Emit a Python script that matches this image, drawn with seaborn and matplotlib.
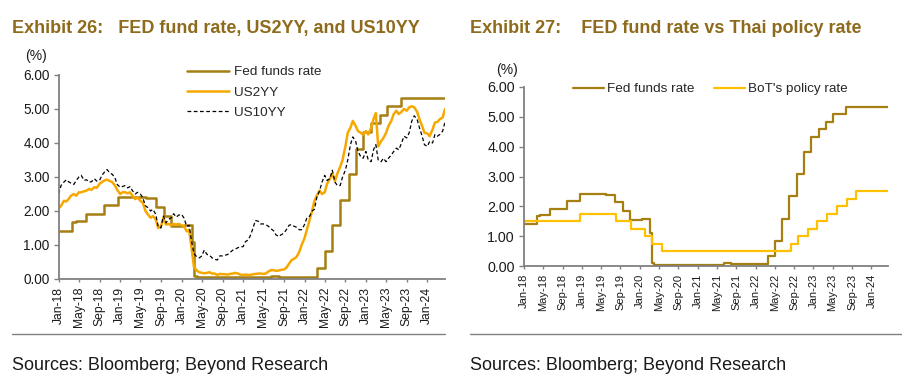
import matplotlib
matplotlib.use('Agg')
import matplotlib.pyplot as plt
import matplotlib.dates as mdates
from matplotlib.lines import Line2D
from matplotlib.ticker import FormatStrFormatter
import numpy as np
import pandas as pd
import seaborn as sns

# ---- data ----
# Fed funds (effective) rate, value from each date until the next one
fed_dates = ['2018-01-01', '2018-03-22', '2018-04-15', '2018-06-14', '2018-09-27',
             '2018-12-20', '2019-06-01', '2019-08-01', '2019-09-19', '2019-10-31',
             '2020-01-15', '2020-03-04', '2020-03-16', '2020-04-01', '2021-06-17',
             '2021-08-01', '2022-03-17', '2022-05-05', '2022-06-16', '2022-07-28',
             '2022-09-22', '2022-11-03', '2022-12-15', '2023-02-02', '2023-03-23',
             '2023-05-04', '2023-07-27', '2024-04-15']
fed_rate = [1.42, 1.67, 1.70, 1.91, 2.18,
            2.40, 2.38, 2.13, 1.85, 1.55,
            1.58, 1.10, 0.10, 0.05, 0.10,
            0.07, 0.33, 0.83, 1.58, 2.33,
            3.08, 3.83, 4.33, 4.58, 4.83,
            5.08, 5.33, 5.33]

# BoT policy rate
bot_dates = ['2018-01-01', '2018-12-19', '2019-08-07', '2019-11-06', '2020-02-05',
             '2020-03-20', '2020-05-20', '2022-08-10', '2022-09-28', '2022-11-30',
             '2023-01-25', '2023-03-29', '2023-05-31', '2023-08-02', '2023-09-27',
             '2024-04-15']
bot_rate = [1.50, 1.75, 1.50, 1.25, 1.00,
            0.75, 0.50, 0.75, 1.00, 1.25,
            1.50, 1.75, 2.00, 2.25, 2.50,
            2.50]

# yields, 1st and 15th of each month, Jan-2018 .. 15-Apr-2024
yield_dates = pd.date_range('2018-01-01', '2024-04-15', freq='SMS')
us2yy = [
    # 2018
    2.08, 2.15, 2.30, 2.28, 2.35, 2.45, 2.50, 2.45, 2.55, 2.55, 2.58, 2.60,
    2.65, 2.62, 2.70, 2.68, 2.80, 2.85, 2.90, 2.92, 2.88, 2.85, 2.75, 2.62,
    # 2019
    2.50, 2.55, 2.55, 2.52, 2.55, 2.45, 2.35, 2.40, 2.30, 2.25, 2.00, 1.90,
    1.80, 1.85, 1.75, 1.50, 1.55, 1.80, 1.60, 1.62, 1.58, 1.62, 1.60, 1.62,
    # 2020
    1.58, 1.56, 1.40, 1.45, 0.90, 0.35, 0.25, 0.20, 0.18, 0.17, 0.18, 0.20,
    0.16, 0.16, 0.12, 0.15, 0.14, 0.14, 0.13, 0.15, 0.16, 0.18, 0.16, 0.13,
    # 2021
    0.12, 0.13, 0.12, 0.12, 0.14, 0.15, 0.16, 0.16, 0.15, 0.16, 0.22, 0.26,
    0.26, 0.24, 0.25, 0.27, 0.28, 0.33, 0.45, 0.55, 0.60, 0.65, 0.80, 1.00,
    # 2022
    1.20, 1.45, 1.75, 2.00, 2.30, 2.45, 2.60, 2.50, 2.55, 2.80, 2.95, 3.10,
    2.88, 3.10, 3.30, 3.50, 3.90, 4.30, 4.45, 4.65, 4.50, 4.35, 4.30, 4.25,
    # 2023
    4.35, 4.25, 4.45, 4.70, 4.88, 3.90, 4.05, 4.15, 4.30, 4.50, 4.65, 4.85,
    4.95, 4.85, 4.92, 5.00, 4.95, 5.05, 5.08, 5.05, 4.92, 4.70, 4.50, 4.30,
    # 2024
    4.28, 4.20, 4.40, 4.60, 4.62, 4.70, 4.75, 5.00]
us10yy = [
    # 2018
    2.50, 2.75, 2.85, 2.92, 2.86, 2.82, 2.78, 2.90, 3.00, 3.05, 2.90, 2.92,
    2.85, 2.86, 2.95, 2.88, 2.90, 3.05, 3.15, 3.22, 3.12, 3.08, 2.98, 2.78,
    # 2019
    2.70, 2.72, 2.75, 2.68, 2.72, 2.60, 2.50, 2.55, 2.50, 2.40, 2.15, 2.10,
    2.00, 2.05, 1.90, 1.55, 1.50, 1.85, 1.65, 1.75, 1.80, 1.92, 1.82, 1.88,
    # 2020
    1.90, 1.80, 1.55, 1.58, 1.10, 0.75, 0.65, 0.62, 0.68, 0.85, 0.72, 0.70,
    0.62, 0.58, 0.56, 0.68, 0.68, 0.70, 0.72, 0.78, 0.85, 0.88, 0.92, 0.95,
    # 2021
    0.95, 1.10, 1.15, 1.30, 1.50, 1.72, 1.70, 1.62, 1.62, 1.60, 1.55, 1.48,
    1.42, 1.30, 1.25, 1.30, 1.35, 1.45, 1.58, 1.60, 1.55, 1.52, 1.45, 1.45,
    # 2022
    1.60, 1.80, 1.85, 2.00, 2.05, 2.40, 2.60, 2.85, 3.05, 2.90, 2.95, 3.20,
    2.85, 2.75, 2.75, 3.00, 3.20, 3.50, 3.95, 4.18, 4.05, 3.75, 3.60, 3.55,
    # 2023
    3.75, 3.50, 3.45, 3.80, 3.95, 3.50, 3.45, 3.55, 3.45, 3.55, 3.65, 3.75,
    3.85, 3.80, 4.00, 4.20, 4.15, 4.30, 4.65, 4.80, 4.70, 4.45, 4.20, 3.95,
    # 2024
    3.90, 4.05, 4.00, 4.25, 4.20, 4.25, 4.35, 4.62]

fed_df = pd.DataFrame({'date': pd.to_datetime(fed_dates), 'rate': fed_rate})
bot_df = pd.DataFrame({'date': pd.to_datetime(bot_dates), 'rate': bot_rate})
yld_df = pd.DataFrame({'date': yield_dates, 'us2yy': us2yy, 'us10yy': us10yy})

# ---- style ----
sns.set_style('white')
plt.rcParams['font.family'] = ['Liberation Sans', 'DejaVu Sans']

FED_C = '#A57F12'
US2_C = '#F6A800'
BOT_C = '#FFC000'
TITLE_C = '#8E6B1C'
AXIS_C = '#808080'
TEXT_C = '#1a1a1a'

W, H = 903, 388
fig = plt.figure(figsize=(W / 100, H / 100), dpi=100)

ax1 = fig.add_axes([58.7 / W, 1 - 279 / H, (445 - 58.7) / W, (279 - 75) / H])
ax2 = fig.add_axes([524 / W, 1 - 266 / H, (888 - 524) / W, (266 - 87) / H])

# left chart
sns.lineplot(data=fed_df, x='date', y='rate', ax=ax1, color=FED_C, lw=1.8,
             drawstyle='steps-post', estimator=None, label='Fed funds rate')
sns.lineplot(data=yld_df, x='date', y='us2yy', ax=ax1, color=US2_C, lw=1.8,
             estimator=None, label='US2YY')
sns.lineplot(data=yld_df, x='date', y='us10yy', ax=ax1, color='black', lw=0.9,
             estimator=None, label='US10YY', linestyle=(0, (3, 2)))

# right chart
sns.lineplot(data=fed_df, x='date', y='rate', ax=ax2, color=FED_C, lw=1.6,
             drawstyle='steps-post', estimator=None, label='Fed funds rate')
sns.lineplot(data=bot_df, x='date', y='rate', ax=ax2, color=BOT_C, lw=1.6,
             drawstyle='steps-post', estimator=None, label="BoT's policy rate")

for ax, xfs, yfs in [(ax1, 8.7, 9.8), (ax2, 8.0, 10.3)]:
    ax.set_xlim(pd.Timestamp('2018-01-01'), pd.Timestamp('2024-04-15'))
    ax.set_ylim(0, 6)
    ax.set_yticks(np.arange(0, 7, 1))
    ax.yaxis.set_major_formatter(FormatStrFormatter('%.2f'))
    ax.xaxis.set_major_locator(mdates.MonthLocator(bymonth=[1, 5, 9]))
    ax.xaxis.set_major_formatter(mdates.DateFormatter('%b-%y'))
    ax.set_xlabel('')
    ax.set_ylabel('')
    for s in ['top', 'right']:
        ax.spines[s].set_visible(False)
    for s in ['left', 'bottom']:
        ax.spines[s].set_color(AXIS_C)
        ax.spines[s].set_linewidth(1.3)
    ax.tick_params(axis='x', direction='out', length=2.5, width=1, color=AXIS_C,
                   labelsize=xfs, labelcolor=TEXT_C, labelrotation=90, pad=3,
                   bottom=True)
    ax.tick_params(axis='y', direction='out', length=3.5, width=1, color=AXIS_C,
                   labelsize=yfs, labelcolor=TEXT_C, pad=3, left=True)
    ax.grid(False)

ax1.legend(loc='upper left', bbox_to_anchor=(187 / W, 1 - 66 / H),
           bbox_transform=fig.transFigure, frameon=False, fontsize=9.7,
           borderpad=0, borderaxespad=0, handlelength=3.1, handletextpad=0.36,
           labelspacing=0.58)
ax2.legend(loc='upper left', bbox_to_anchor=(573 / W, 1 - 83 / H),
           bbox_transform=fig.transFigure, frameon=False, fontsize=9.7, ncol=2,
           borderpad=0, borderaxespad=0, handlelength=2.3, handletextpad=0.22,
           columnspacing=1.45)

# titles, units, sources
fig.text(12 / W, 1 - 33.3 / H, 'Exhibit 26:   FED fund rate, US2YY, and US10YY',
         fontsize=13, fontweight='bold', color=TITLE_C, va='baseline')
fig.text(470 / W, 1 - 33.3 / H, 'Exhibit 27:    FED fund rate vs Thai policy rate',
         fontsize=13, fontweight='bold', color=TITLE_C, va='baseline')
fig.text(36 / W, 1 - 56 / H, '(%)', fontsize=10, color=TEXT_C, ha='center', va='center')
fig.text(507 / W, 1 - 70 / H, '(%)', fontsize=10, color=TEXT_C, ha='center', va='center')

fig.add_artist(Line2D([12 / W, 445 / W], [1 - 334 / H, 1 - 334 / H], color=AXIS_C, lw=1))
fig.add_artist(Line2D([470 / W, 1.0], [1 - 334 / H, 1 - 334 / H], color=AXIS_C, lw=1))
fig.text(12 / W, 1 - 370.5 / H, 'Sources: Bloomberg; Beyond Research',
         fontsize=13, color=TEXT_C, va='baseline')
fig.text(470 / W, 1 - 370.5 / H, 'Sources: Bloomberg; Beyond Research',
         fontsize=13, color=TEXT_C, va='baseline')

fig.savefig('out.png', dpi=100)
